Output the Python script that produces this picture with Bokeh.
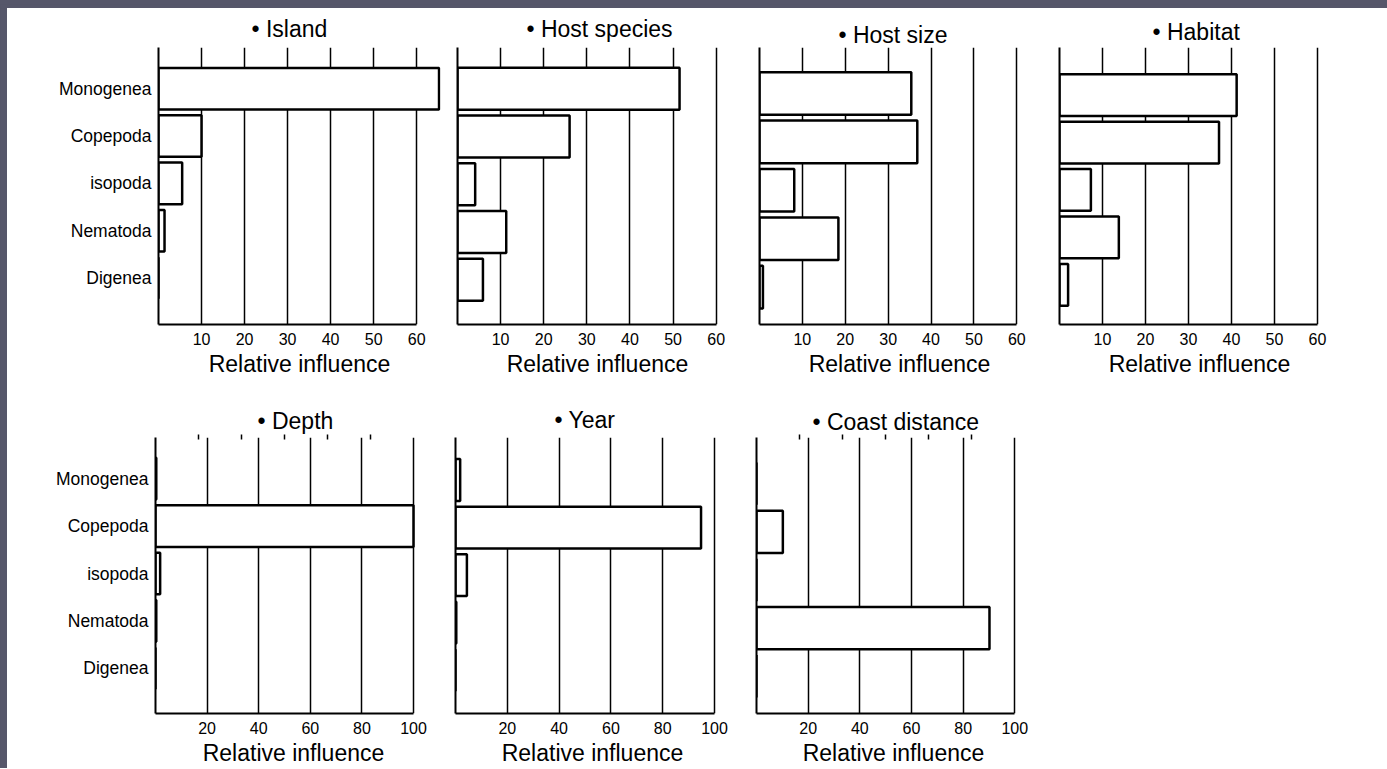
from bokeh.plotting import figure
from bokeh.models import Range1d, FixedTicker, LinearAxis, ColumnDataSource
from bokeh.layouts import row, column
from bokeh.embed import file_html
from bokeh.resources import INLINE

# ---------------- data ----------------
categories = ["Monogenea", "Copepoda", "isopoda", "Nematoda", "Digenea"]
panel_names = ["Island", "Host species", "Host size", "Habitat", "Depth", "Year", "Coast distance"]
island = [65.2, 10.0, 5.5, 1.4, 0.0]
host_species = [51.5, 26.0, 4.1, 11.3, 5.9]
host_size = [35.4, 36.8, 8.1, 18.4, 0.8]
habitat = [41.2, 37.1, 7.3, 13.8, 2.0]
depth = [0.3, 100.0, 1.8, 0.3, 0.0]
year = [1.8, 94.8, 4.4, 0.3, 0.0]
coast_distance = [0.0, 10.2, 0.0, 90.2, 0.0]
ticks_60 = [10, 20, 30, 40, 50, 60]
ticks_100 = [20, 40, 60, 80, 100]
stray_top_ticks = [16.7, 33.3, 50.0, 66.7, 83.3]
x_label = "Relative influence"

FONT = "Liberation Sans"
INK = "black"
FRAME_GREY = "#56576a"

# row geometry (pixels)
ROW1 = dict(h=371, tb=39, bb=53)
ROW2 = dict(h=389, tb=58, bb=53)

# layout settings per panel (pixels / range limits)
cfgs = [
    dict(vals=island, ticks=ticks_60, amax=60, xend=65.54, lb=151, fw=282, rb=5, r=ROW1,
         y0=-0.982, y1=4.871, toff=93, tst=11, cats=True, top=False),
    dict(vals=host_species, ticks=ticks_60, amax=60, xend=64.94, lb=12, fw=280, rb=10, r=ROW1,
         y0=-0.938, y1=4.863, toff=69, tst=11, cats=False, top=False),
    dict(vals=host_size, ticks=ticks_60, amax=60, xend=65.30, lb=12, fw=280, rb=8, r=ROW1,
         y0=-0.773, y1=4.950, toff=79, tst=0, cats=False, top=False),
    dict(vals=habitat, ticks=ticks_60, amax=60, xend=65.12, lb=12, fw=280, rb=10, r=ROW1,
         y0=-0.838, y1=5.005, toff=93, tst=6, cats=False, top=False),
    dict(vals=depth, ticks=ticks_100, amax=100, xend=106.98, lb=148, fw=276, rb=12, r=ROW2,
         y0=-0.953, y1=4.869, toff=102, tst=2, cats=True, top=True),
    dict(vals=year, ticks=ticks_100, amax=100, xend=105.79, lb=12, fw=274, rb=15, r=ROW2,
         y0=-0.910, y1=4.894, toff=99, tst=10, cats=False, top=False),
    dict(vals=coast_distance, ticks=ticks_100, amax=100, xend=106.08, lb=12, fw=274, rb=10, r=ROW2,
         y0=-0.773, y1=4.959, toff=56, tst=0, cats=False, top=True),
]


def make_panel(name, c):
    n = len(categories)
    ypos = [n - 1 - i for i in range(n)]
    r = c["r"]
    p = figure(width=c["lb"] + c["fw"] + c["rb"], height=r["h"],
               x_range=Range1d(0, c["xend"]), y_range=Range1d(c["y0"], c["y1"]),
               output_backend="svg", toolbar_location=None,
               min_border_left=c["lb"], min_border_right=c["rb"],
               min_border_top=r["tb"], min_border_bottom=r["bb"],
               outline_line_color=None, background_fill_color="white",
               border_fill_color="white")

    src = ColumnDataSource(dict(y=ypos, right=c["vals"], cat=categories))
    p.hbar(y="y", left=0, right="right", height=0.88, source=src,
           fill_color="white", line_color=INK, line_width=2.5)

    # title
    p.title.text = "\u2022 " + name
    p.title.align = "left"
    p.title.offset = c["toff"]
    p.title.standoff = c["tst"]
    p.title.text_font = FONT
    p.title.text_font_size = "23px"
    p.title.text_font_style = "normal"
    p.title.text_color = INK

    # x axis + vertical grid
    xt = FixedTicker(ticks=c["ticks"])
    xa = p.xaxis[0]
    xa.ticker = xt
    xa.bounds = (0, c["amax"])
    xa.major_tick_in = 0
    xa.major_tick_out = 0
    xa.minor_tick_line_color = None
    xa.axis_line_color = INK
    xa.axis_line_width = 2
    xa.major_label_text_font = FONT
    xa.major_label_text_font_size = "16px"
    xa.major_label_text_color = INK
    xa.major_label_standoff = 8
    xa.axis_label = x_label
    xa.axis_label_text_font = FONT
    xa.axis_label_text_font_size = "23px"
    xa.axis_label_text_font_style = "normal"
    xa.axis_label_text_color = INK
    xa.axis_label_standoff = 3

    p.xgrid.ticker = xt
    p.xgrid.grid_line_color = INK
    p.xgrid.grid_line_width = 1.5
    p.xgrid.grid_line_alpha = 1.0
    p.ygrid.visible = False

    # y axis
    ya = p.yaxis[0]
    ya.axis_line_color = INK
    ya.axis_line_width = 2
    ya.major_tick_in = 0
    ya.major_tick_out = 0
    ya.minor_tick_line_color = None
    if c["cats"]:
        ya.ticker = FixedTicker(ticks=ypos)
        ya.major_label_overrides = {y: cat for y, cat in zip(ypos, categories)}
        ya.major_label_text_font = FONT
        ya.major_label_text_font_size = "17.5px"
        ya.major_label_text_color = INK
        ya.major_label_standoff = 7
    else:
        ya.ticker = FixedTicker(ticks=[])

    if c["top"]:
        ta = LinearAxis(ticker=FixedTicker(ticks=stray_top_ticks),
                        axis_line_color=None, major_tick_in=2, major_tick_out=3,
                        major_tick_line_width=1.5, major_tick_line_color=INK,
                        minor_tick_line_color=None,
                        major_label_overrides={t: "" for t in stray_top_ticks},
                        major_label_text_font_size="0px", major_label_standoff=0)
        p.add_layout(ta, "above")
    return p


def strip(w, h):
    s = figure(width=w, height=h, title=None, toolbar_location=None, output_backend="svg",
               x_range=Range1d(0, 1), y_range=Range1d(0, 1),
               x_axis_type=None, y_axis_type=None,
               min_border=0, min_border_left=0, min_border_right=0,
               min_border_top=0, min_border_bottom=0,
               background_fill_color=FRAME_GREY, border_fill_color=FRAME_GREY,
               outline_line_color=None,
               styles={"background-color": FRAME_GREY})
    s.quad(left=[0], right=[1], bottom=[0], top=[1], fill_color=FRAME_GREY, line_color=None)
    s.xgrid.visible = False
    s.ygrid.visible = False
    return s


panels = [make_panel(nm, c) for nm, c in zip(panel_names, cfgs)]

charts = column(row(*panels[:4]), row(*panels[4:]))
layout = column(strip(1387, 8), row(strip(7, ROW1["h"] + ROW2["h"]), charts))

open("out.html", "w").write(file_html(layout, INLINE))
